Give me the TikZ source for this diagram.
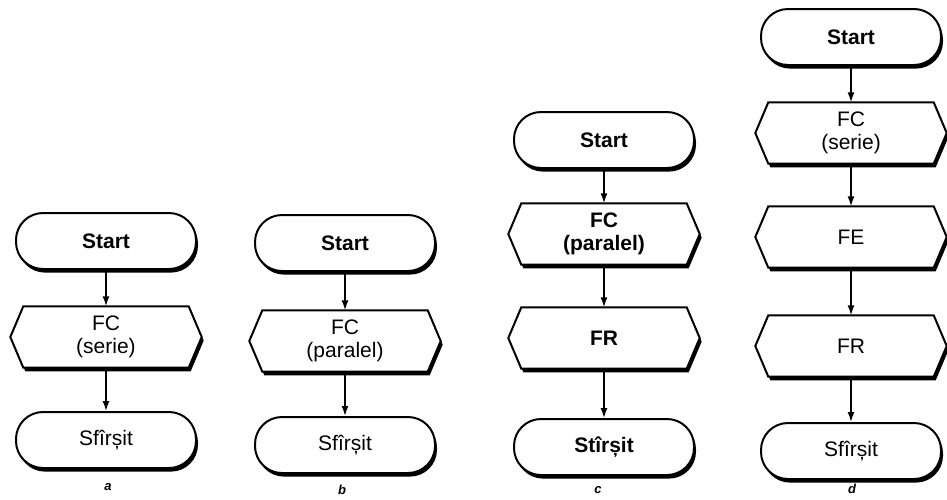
\documentclass[tikz,border=0pt]{standalone}
\usepackage{fontspec}
\setmainfont{Liberation Sans}
\usetikzlibrary{arrows.meta,shadows,backgrounds}
\newcommand\fsz{\fontsize{21}{23}\selectfont}
\newcommand\hexdraw[1]{%
  \begin{scope}[on background layer]
    \fill[black, transform canvas={shift={(2pt,-3.6pt)}}] (#1.north west) -- (#1.north east)
      -- ([xshift=13pt]#1.east) -- (#1.south east) -- (#1.south west) -- ([xshift=-13pt]#1.west) -- cycle;
    \filldraw[fill=white, line width=2pt, line join=miter] (#1.north west) -- (#1.north east)
      -- ([xshift=13pt]#1.east) -- (#1.south east) -- (#1.south west) -- ([xshift=-13pt]#1.west) -- cycle;
  \end{scope}}
\tikzset{
  term/.style={draw, line width=2pt, fill=white, rounded corners=27pt,
    minimum width=180pt, minimum height=56pt, inner sep=0pt, font=\fsz,
    general shadow={fill=black, shadow xshift=2pt, shadow yshift=-3.6pt}},
  hexin/.style={minimum width=165pt, minimum height=61pt, inner sep=0pt, align=center, font=\fsz},
  conn/.style={line width=1.5pt, -{Latex[length=10pt,width=7pt]}},
  sublab/.style={font=\fontsize{13}{15}\selectfont\bfseries\itshape, inner sep=0pt}
}
\begin{document}
\begin{tikzpicture}[x=1pt, y=-1pt]
\useasboundingbox (0,0) rectangle (947,499);
% column a
\node[term, font=\fsz\bfseries] (a1) at (106,241) {Start};
\node[hexin] (a2) at (106,337) {FC\\(serie)};
\node[term] (a3) at (106,440) {Sfîrșit};
\node[sublab] (la) at (108,487) {a};
\hexdraw{a2}
\draw[conn] (a1) -- (a2);
\draw[conn] (a2) -- (a3);
% column b
\node[term, font=\fsz\bfseries] (b1) at (345,243) {Start};
\node[hexin] (b2) at (345,341) {FC\\(paralel)};
\node[term] (b3) at (345,445) {Sfîrșit};
\node[sublab] (lb) at (342,490) {b};
\hexdraw{b2}
\draw[conn] (b1) -- (b2);
\draw[conn] (b2) -- (b3);
% column c
\node[term, font=\fsz\bfseries] (c1) at (604,140) {Start};
\node[hexin, font=\fsz\bfseries] (c2) at (604,234) {FC\\(paralel)};
\node[hexin, font=\fsz\bfseries] (c3) at (604,338) {FR};
\node[term, font=\fsz\bfseries] (c4) at (604,447) {Stîrșit};
\node[sublab] (lc) at (598,490) {c};
\hexdraw{c2}
\hexdraw{c3}
\draw[conn] (c1) -- (c2);
\draw[conn] (c2) -- (c3);
\draw[conn] (c3) -- (c4);
% column d
\node[term, font=\fsz\bfseries] (d1) at (851,37) {Start};
\node[hexin] (d2) at (851,133) {FC\\(serie)};
\node[hexin] (d3) at (851,237) {FE};
\node[hexin] (d4) at (851,346) {FR};
\node[term] (d5) at (851,451) {Sfîrșit};
\node[sublab] (ld) at (852,489) {d};
\hexdraw{d2}
\hexdraw{d3}
\hexdraw{d4}
\draw[conn] (d1) -- (d2);
\draw[conn] (d2) -- (d3);
\draw[conn] (d3) -- (d4);
\draw[conn] (d4) -- (d5);
\end{tikzpicture}
\end{document}
